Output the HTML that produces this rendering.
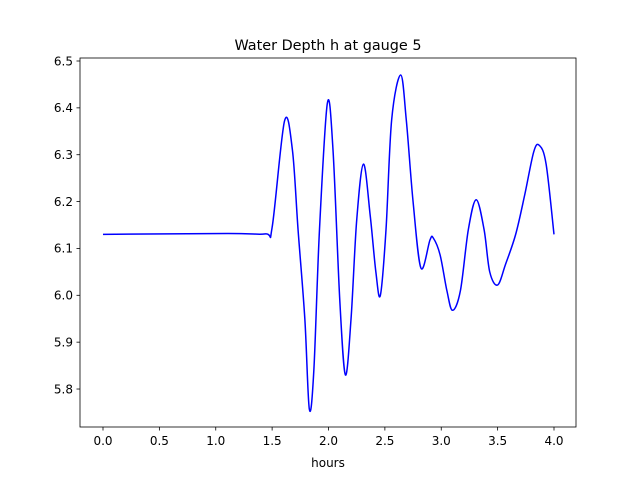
<!DOCTYPE html>
<html><head><meta charset="utf-8"><style>
body{margin:0;background:#fff}
svg text{font-family:"DejaVu Sans","Liberation Sans",sans-serif;fill:#000}
</style></head><body>
<svg width="640" height="480" xmlns="http://www.w3.org/2000/svg">
<rect width="640" height="480" fill="#fff"/>
<text x="328" y="50" font-size="14.4" text-anchor="middle">Water Depth h at gauge 5</text>
<g id="ticks"></g>
<path id="line" fill="none" stroke="#0000ff" stroke-width="1.5"/>
<rect x="80" y="58" width="496" height="369" fill="none" stroke="#000" stroke-width="0.8"/>
<text x="328" y="467" font-size="12" text-anchor="middle">hours</text>
</svg>
<script>
const hours=[0,1.1,1.44,1.5,1.61,1.68,1.73,1.79,1.83,1.87,1.92,1.99,2.04,2.10,2.15,2.20,2.25,2.31,2.37,2.42,2.46,2.51,2.56,2.64,2.69,2.75,2.82,2.90,2.93,2.99,3.05,3.10,3.17,3.24,3.31,3.38,3.43,3.50,3.57,3.66,3.74,3.82,3.87,3.93,4.0];
const depth=[6.13,6.132,6.131,6.145,6.372,6.31,6.14,5.95,5.757,5.84,6.14,6.41,6.31,5.99,5.83,5.95,6.16,6.28,6.17,6.05,6.0,6.14,6.374,6.47,6.374,6.2,6.058,6.118,6.122,6.086,6.01,5.968,6.01,6.14,6.204,6.14,6.05,6.022,6.066,6.13,6.214,6.306,6.32,6.28,6.13];
const xTicks=["0.0","0.5","1.0","1.5","2.0","2.5","3.0","3.5","4.0"];
const yTicks=["5.8","5.9","6.0","6.1","6.2","6.3","6.4","6.5"];
const X=v=>103+(v)*112.75;
const Y=v=>61+(6.5-v)*468.6;
const NS="http://www.w3.org/2000/svg";
const g=document.getElementById('ticks');
function add(tag,attrs,txt){const e=document.createElementNS(NS,tag);for(const k in attrs)e.setAttribute(k,attrs[k]);if(txt)e.textContent=txt;g.appendChild(e);return e;}
xTicks.forEach(t=>{const x=X(+t);
const l=add('line',{x1:x,x2:x,y1:427,y2:430.5,stroke:'#000','stroke-width':0.8});


const tx=add('text',{x:x,y:445,'font-size':12,'text-anchor':'middle'},t);

});
yTicks.forEach(t=>{const y=Y(+t);
const l=add('line',{x1:76.5,x2:80,y1:y,y2:y,stroke:'#000','stroke-width':0.8});


const tx=add('text',{x:73,y:y+4.3,'font-size':12,'text-anchor':'end'},t);

});
const P=hours.map((h,i)=>[X(h),Y(depth[i])]);
let d='M'+P[0][0]+','+P[0][1];
for(let i=0;i<P.length-1;i++){const p0=P[i-1]||P[i],p1=P[i],p2=P[i+1],p3=P[i+2]||P[i+1];
const c1=[p1[0]+(p2[0]-p0[0])/6,p1[1]+(p2[1]-p0[1])/6],c2=[p2[0]-(p3[0]-p1[0])/6,p2[1]-(p3[1]-p1[1])/6];
d+=`C${c1[0]},${c1[1]} ${c2[0]},${c2[1]} ${p2[0]},${p2[1]}`;}
document.getElementById('line').setAttribute('d',d);
</script>
</body></html>
